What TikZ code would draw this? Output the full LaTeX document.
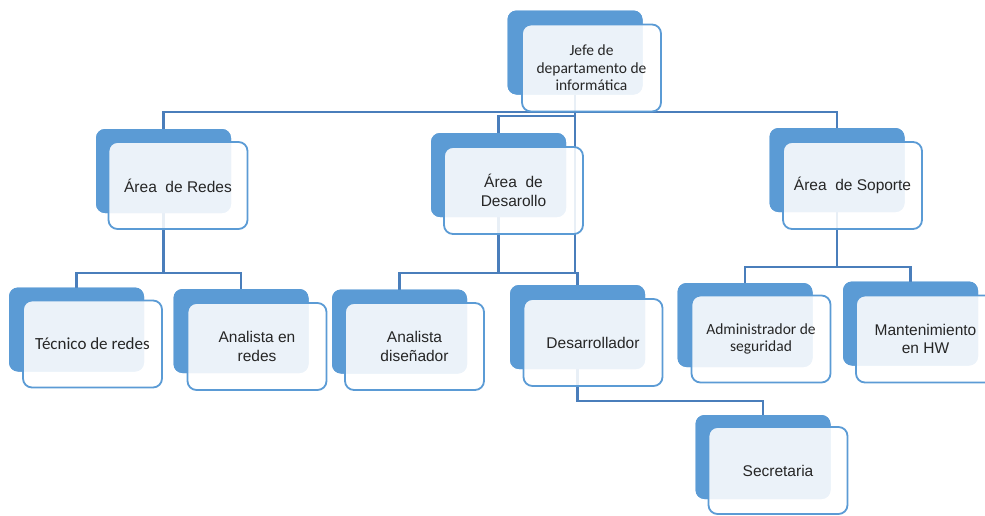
\documentclass[tikz,border=0pt]{standalone}
\usepackage{fontspec}
\newfontfamily\arialf{Liberation Sans}
\newfontfamily\calibf{Carlito}
\definecolor{boxblue}{HTML}{5B9BD5}
\definecolor{linkblue}{HTML}{4A7EBB}
\definecolor{txt}{HTML}{262626}
\tikzset{
  backbox/.style={fill=boxblue, rounded corners=9pt, minimum width=135pt, minimum height=84pt, inner sep=0pt, outer sep=0pt},
  frontbox/.style={draw=boxblue, line width=1.8pt, fill=white, fill opacity=0.88, text opacity=1, rounded corners=9pt, minimum width=139pt, minimum height=87pt, inner sep=0pt, align=center, text=txt, font=\arialf\fontsize{15.5}{18.5}\selectfont},
  calfont/.style={font=\calibf\fontsize{15.5}{17.5}\selectfont},
  calbig/.style={font=\calibf\fontsize{17}{19}\selectfont},
  conn/.style={draw=linkblue, line width=2.3pt}
}
\begin{document}
\begin{tikzpicture}[x=1pt,y=-1pt]
\useasboundingbox (0,0) rectangle (985,515);
\clip (0,0) rectangle (985,515);
% back boxes (named so connectors can reference them)
\node[backbox] (jb) at (575,52.5) {};
\node[backbox] (rb) at (163.5,171) {};
\node[backbox] (db) at (498.5,175) {};
\node[backbox] (sb) at (837,170) {};
\node[backbox] (tb) at (76.5,329.5) {};
\node[backbox] (arb) at (241,331) {};
\node[backbox] (adb) at (399.5,331.5) {};
\node[backbox] (devb) at (577.5,327) {};
\node[backbox] (admb) at (745,325) {};
\node[backbox] (mb) at (910.5,323.5) {};
\node[backbox] (secb) at (763,457) {};
% connectors
\draw[conn] (jb.south) -- (jb.south |- 0,112) -| (rb.north);
\draw[conn] (jb.south |- 0,112) -| (sb.north);
\draw[conn] (jb.south |- 0,116) -| (db.north);
\draw[conn] (jb.south) -- (jb.south |- 0,273);
\draw[conn] (rb.south) -- (rb.south |- 0,273) -| (tb.north);
\draw[conn] (rb.south |- 0,273) -| (arb.north);
\draw[conn] (db.south) -- (db.south |- 0,273) -| (adb.north);
\draw[conn] (db.south |- 0,273) -| (devb.north);
\draw[conn] (sb.south) -- (sb.south |- 0,267) -| (admb.north);
\draw[conn] (sb.south |- 0,267) -| (mb.north);
\draw[conn] (devb.south) -- (devb.south |- 0,401) -| (secb.north);
% repaint back boxes over connectors
\foreach \b in {jb,rb,db,sb,tb,arb,adb,devb,admb,mb,secb}{
  \fill[boxblue, rounded corners=9pt] (\b.south west) rectangle (\b.north east);
}
% front boxes with text
\node[frontbox, calfont] (j) at (591.5,68) {Jefe de\\departamento de\\informática};
\node[frontbox] (r) at (178,185.5) {Área\ \ de Redes};
\node[frontbox] (d) at (513.5,190.5) {Área\ \ de\\Desarollo};
\node[frontbox] (s) at (852.5,185.5) {Área\ \ de Soporte};
\node[frontbox, calbig] (t) at (92.5,344) {Técnico de redes};
\node[frontbox] (ar) at (257,346.5) {Analista en\\redes};
\node[frontbox] (ad) at (414.5,346.5) {Analista\\diseñador};
\node[frontbox] (dev) at (593,342.5) {Desarrollador};
\node[frontbox, calfont] (adm) at (761,339) {Administrador de\\seguridad};
\node[frontbox] (m) at (925.5,339) {Mantenimiento\\en HW};
\node[frontbox] (sec) at (778,470.5) {Secretaria};
\end{tikzpicture}
\end{document}
